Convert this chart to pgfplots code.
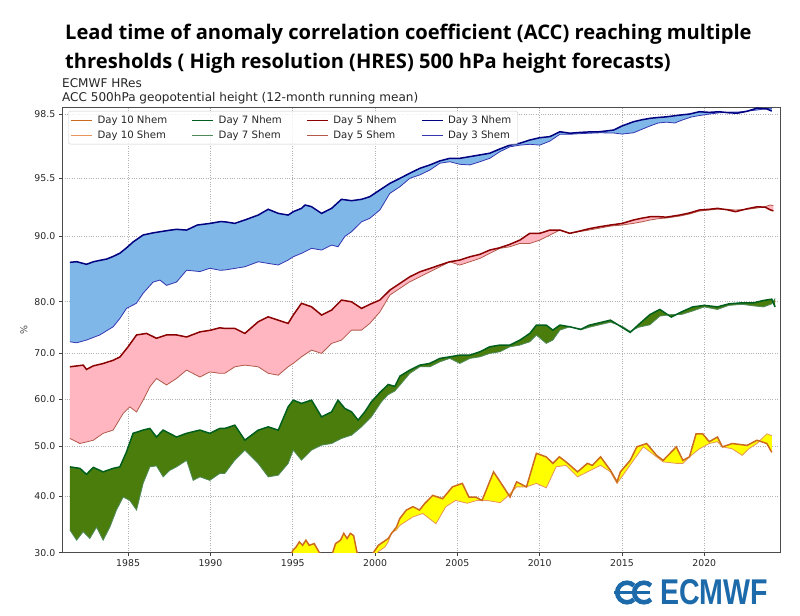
\documentclass[border=0pt]{standalone}
\usepackage{fontspec}
\setmainfont{DejaVu Sans}
\newfontfamily\titlefont{Open Sans}
\newfontfamily\logofont{Liberation Sans}
\usepackage{pgfplots}
\usepackage{pgfplotstable}
\pgfplotsset{compat=1.18}
\usepgfplotslibrary{fillbetween}

\definecolor{dthreen}{HTML}{000080}
\definecolor{dthrees}{HTML}{3535B0}
\definecolor{dthreef}{HTML}{7FB8E8}
\definecolor{dfiven}{HTML}{8B0000}
\definecolor{dfives}{HTML}{B2594A}
\definecolor{dfivef}{HTML}{FFB6C1}
\definecolor{dsevenn}{HTML}{005F1E}
\definecolor{dsevens}{HTML}{4F8A5B}
\definecolor{dsevenf}{HTML}{4A7D0C}
\definecolor{dtenn}{HTML}{CC6A1F}
\definecolor{dtens}{HTML}{E8955A}
\definecolor{dtenf}{HTML}{FFFF00}
\definecolor{ecblue}{HTML}{1D6AAA}
\definecolor{txt}{HTML}{262626}

% piecewise-linear map of ACC (%) onto the chart's stretched vertical scale
\newcommand{\accmap}[1]{((#1)<40?((#1)-30)*5.68:((#1)<50?56.8+((#1)-40)*5.0:((#1)<60?106.8+((#1)-50)*4.64:((#1)<70?153.2+((#1)-60)*4.66:((#1)<80?199.8+((#1)-70)*5.1:((#1)<90?250.8+((#1)-80)*6.57:((#1)<95.5?316.5+((#1)-90)*10.49:374.2+((#1)-95.5)*21.27)))))))}

\pgfplotstableread{
x y
1981.46 86.00
1981.87 86.10
1982.47 85.70
1982.90 86.10
1983.28 86.30
1983.69 86.50
1984.09 86.90
1984.50 87.40
1984.90 88.20
1985.30 89.10
1985.91 90.10
1986.50 90.30
1986.93 90.41
1987.50 90.55
1987.94 90.64
1988.55 90.57
1989.20 91.05
1990.00 91.21
1990.57 91.37
1990.87 91.36
1991.48 91.21
1992.09 91.53
1992.90 92.00
1993.51 92.55
1994.12 92.16
1994.72 92.00
1995.03 92.32
1995.53 92.64
1995.75 92.96
1996.14 92.80
1996.75 92.16
1997.36 92.64
1997.96 93.50
1998.57 93.37
1999.18 93.50
1999.68 93.75
2000.29 94.39
2000.90 95.02
2001.51 95.50
2002.11 95.74
2002.72 95.97
2003.33 96.13
2003.94 96.32
2004.54 96.44
2005.15 96.44
2005.76 96.52
2006.37 96.60
2006.97 96.68
2007.58 96.88
2008.19 97.06
2008.80 97.15
2009.40 97.30
2010.01 97.41
2010.62 97.46
2011.23 97.69
2011.83 97.62
2012.50 97.66
2013.00 97.68
2013.66 97.69
2014.50 97.77
2015.00 97.96
2015.70 98.16
2016.20 98.25
2016.70 98.32
2017.20 98.36
2017.70 98.39
2018.50 98.47
2019.10 98.52
2019.70 98.63
2020.30 98.60
2020.90 98.63
2021.50 98.58
2022.00 98.56
2022.60 98.65
2023.20 98.80
2023.80 98.76
2024.10 98.66
}\dthreeN

\pgfplotstableread{
x y
1981.46 72.16
1981.87 71.96
1982.47 72.50
1983.28 73.50
1984.09 75.10
1984.50 76.75
1984.90 78.70
1985.50 79.70
1985.91 81.30
1986.52 83.00
1986.93 83.30
1987.33 82.50
1987.94 83.00
1988.55 84.80
1989.36 84.60
1989.96 85.10
1990.57 84.80
1990.87 84.83
1991.48 85.08
1992.09 85.33
1992.90 86.09
1993.51 85.84
1994.12 85.59
1994.72 86.35
1995.03 86.85
1995.53 87.37
1996.14 88.13
1996.75 87.87
1997.36 88.63
1997.75 88.37
1998.16 89.93
1998.57 90.41
1999.18 91.36
1999.68 91.69
2000.29 92.48
2000.90 94.07
2001.51 94.70
2002.11 95.50
2002.72 95.66
2003.33 95.89
2003.94 96.21
2004.54 96.28
2005.15 96.16
2005.76 96.13
2006.37 96.28
2006.97 96.44
2007.58 96.75
2008.19 96.98
2008.80 97.06
2009.40 97.10
2010.01 97.06
2010.62 97.25
2011.23 97.57
2011.83 97.57
2012.50 97.60
2013.00 97.62
2013.66 97.64
2014.50 97.63
2015.00 97.58
2015.70 97.64
2016.20 97.80
2016.70 97.96
2017.20 98.10
2017.70 98.14
2018.20 98.10
2018.70 98.25
2019.20 98.38
2019.70 98.45
2020.30 98.52
2020.90 98.58
2021.50 98.61
2022.00 98.61
2022.60 98.66
2023.20 98.71
2023.80 98.78
2024.10 98.80
}\dthreeS

\pgfplotstableread{
x y
1981.46 67.00
1982.27 67.36
1982.47 66.44
1982.88 67.20
1983.48 67.70
1984.09 68.40
1984.50 69.10
1985.00 71.20
1985.51 73.50
1986.12 73.80
1986.72 72.85
1987.33 73.50
1987.94 73.50
1988.55 73.10
1989.36 74.10
1989.96 74.40
1990.57 74.90
1990.87 74.78
1991.48 74.78
1992.09 73.80
1992.90 76.08
1993.51 77.06
1994.12 76.40
1994.72 75.76
1995.03 77.40
1995.53 79.70
1996.14 79.02
1996.75 77.40
1997.36 78.37
1997.96 80.26
1998.57 80.00
1999.18 78.70
1999.68 79.50
2000.29 80.26
2000.90 81.78
2001.51 82.80
2002.11 83.80
2002.72 84.56
2003.33 85.07
2003.94 85.59
2004.54 86.09
2005.15 86.35
2005.76 86.85
2006.37 87.22
2006.97 87.87
2007.58 88.22
2008.19 88.74
2008.80 89.39
2009.40 90.26
2010.01 90.26
2010.62 90.57
2011.23 90.57
2011.83 90.26
2012.50 90.50
2013.00 90.70
2013.66 90.89
2014.30 91.05
2015.00 91.20
2015.70 91.53
2016.20 91.70
2016.70 91.84
2017.20 91.85
2017.70 91.80
2018.50 92.00
2019.10 92.20
2019.70 92.48
2020.30 92.55
2020.80 92.64
2021.40 92.50
2021.90 92.32
2022.60 92.60
2023.20 92.79
2023.70 92.75
2024.00 92.50
2024.20 92.40
}\dfiveN

\pgfplotstableread{
x y
1981.46 51.60
1982.07 50.50
1982.88 51.20
1983.48 52.70
1984.09 53.40
1984.70 57.00
1985.10 58.40
1985.51 57.30
1985.91 59.85
1986.32 62.70
1986.72 64.50
1987.33 63.10
1987.94 64.50
1988.55 66.30
1989.36 64.80
1989.96 65.90
1990.57 65.60
1990.87 65.60
1991.48 67.00
1992.09 67.36
1992.90 67.00
1993.51 65.60
1994.12 65.20
1994.72 67.00
1995.03 67.73
1995.53 69.14
1996.14 70.53
1996.75 69.87
1997.36 71.84
1997.96 72.49
1998.57 74.45
1999.18 74.45
1999.68 75.76
2000.29 78.00
2000.90 81.02
2001.51 82.04
2002.11 83.04
2002.72 83.80
2003.33 84.56
2003.94 85.33
2004.54 86.09
2005.15 85.59
2005.76 86.09
2006.37 86.60
2006.97 87.37
2007.58 88.13
2008.19 88.37
2008.80 88.88
2009.40 88.88
2010.01 89.39
2010.62 90.10
2011.23 90.57
2011.83 90.26
2012.50 90.45
2013.00 90.57
2013.66 90.76
2014.30 90.95
2015.00 91.05
2015.70 91.21
2016.20 91.35
2016.70 91.53
2017.20 91.65
2017.70 91.72
2018.50 91.90
2019.10 92.10
2019.70 92.38
2020.30 92.48
2020.80 92.56
2021.40 92.55
2021.90 92.48
2022.60 92.55
2023.20 92.67
2023.70 92.80
2024.00 92.96
2024.20 92.90
}\dfiveS

\pgfplotstableread{
x y
1981.46 45.80
1982.07 45.50
1982.47 44.30
1982.88 45.70
1983.48 44.80
1984.09 45.50
1984.50 45.80
1984.90 48.80
1985.30 52.70
1985.91 53.40
1986.32 53.75
1986.72 51.90
1987.12 53.40
1987.94 51.90
1988.55 52.70
1989.36 53.40
1989.96 52.70
1990.57 53.75
1990.87 53.75
1991.48 54.46
1992.09 51.23
1992.90 53.38
1993.51 54.10
1994.12 53.38
1994.72 58.40
1995.03 59.85
1995.53 59.14
1996.14 59.85
1996.75 56.25
1997.36 57.33
1997.75 59.85
1998.16 58.06
1998.57 57.33
1998.97 55.54
1999.38 57.33
1999.78 59.50
2000.30 61.50
2000.80 63.20
2001.20 62.80
2001.51 65.00
2002.11 66.29
2002.72 67.36
2003.33 67.73
2003.94 68.80
2004.54 69.14
2005.15 69.50
2005.76 69.50
2006.37 70.20
2006.97 71.18
2007.58 71.51
2008.19 71.51
2008.80 72.49
2009.40 73.80
2009.80 75.43
2010.40 75.43
2010.80 74.45
2011.23 75.43
2011.83 75.10
2012.50 74.60
2013.00 75.40
2014.30 76.40
2015.00 75.00
2015.50 74.00
2016.00 75.50
2016.70 77.50
2017.30 78.50
2018.00 77.00
2018.60 78.00
2019.30 79.00
2020.00 79.30
2020.80 79.00
2021.50 79.60
2022.30 79.80
2023.00 79.80
2023.60 80.20
2024.10 80.40
2024.30 79.00
}\dsevenN

\pgfplotstableread{
x y
1981.46 34.00
1981.87 32.20
1982.27 33.70
1982.67 32.50
1983.08 34.50
1983.48 32.20
1983.89 34.50
1984.29 37.50
1984.70 39.80
1985.10 39.20
1985.51 37.50
1985.91 42.50
1986.32 45.80
1986.72 46.00
1987.13 43.80
1987.53 45.10
1987.94 45.80
1988.55 47.10
1988.95 43.10
1989.36 43.80
1989.96 43.10
1990.57 44.50
1990.87 44.48
1991.48 47.14
1992.09 49.14
1992.90 46.48
1993.51 43.80
1994.12 44.14
1994.72 46.48
1995.03 49.14
1995.53 47.14
1996.14 49.14
1996.75 50.15
1997.36 50.50
1997.96 51.60
1998.57 52.30
1999.18 54.10
1999.78 56.25
2000.39 59.50
2000.79 61.00
2001.20 61.80
2001.51 63.07
2002.11 65.58
2002.72 67.00
2003.33 67.00
2003.94 68.07
2004.54 68.80
2005.15 67.73
2005.76 68.80
2006.37 69.14
2006.97 69.87
2007.58 70.20
2008.19 71.18
2008.80 71.51
2009.40 72.16
2009.80 73.47
2010.40 71.84
2010.80 72.49
2011.23 74.45
2011.83 75.10
2012.50 74.50
2013.00 75.00
2014.30 76.00
2015.00 75.20
2015.50 74.20
2016.00 75.00
2016.70 75.50
2017.30 77.20
2018.00 77.50
2018.60 77.50
2019.30 78.20
2020.00 79.00
2020.80 78.50
2021.50 79.30
2022.30 79.50
2023.00 79.20
2023.60 79.00
2024.10 79.60
2024.30 80.50
}\dsevenS

\pgfplotstableread{
x y
1981.46 24.0
1988.00 26.0
1994.00 28.0
1994.90 29.5
1995.00 30.4
1995.20 31.0
1995.40 31.9
1995.60 31.3
1995.80 32.2
1996.00 31.3
1996.30 31.6
1996.60 30.1
1997.00 28.5
1997.40 29.8
1997.60 31.6
1997.90 32.2
1998.10 33.4
1998.30 32.5
1998.50 33.4
1998.70 33.0
1998.90 30.1
1999.30 28.5
1999.90 30.0
2000.20 31.3
2000.50 31.9
2000.80 32.5
2001.00 33.4
2001.30 34.5
2001.50 36.0
2001.90 37.5
2002.10 37.8
2002.30 38.1
2002.70 37.5
2003.00 38.6
2003.50 40.1
2004.10 39.5
2004.70 41.8
2005.30 42.5
2005.70 39.8
2006.10 39.8
2006.50 39.2
2007.20 44.8
2007.80 41.8
2008.20 39.8
2008.60 42.8
2009.20 41.8
2009.80 48.5
2010.40 47.8
2010.80 46.5
2011.20 47.8
2011.60 46.8
2012.30 44.8
2012.90 46.5
2013.20 46.1
2013.70 47.8
2014.30 45.1
2014.70 42.8
2014.90 44.8
2015.50 47.1
2015.90 49.8
2016.50 50.5
2017.10 48.1
2017.50 47.1
2018.30 49.8
2018.70 47.1
2019.10 47.8
2019.50 52.6
2019.90 52.6
2020.30 50.9
2020.80 51.9
2021.10 49.8
2021.70 50.5
2022.60 50.1
2023.20 51.2
2023.80 50.5
2024.10 48.7
}\dtenN

\pgfplotstableread{
x y
1981.46 22.0
1988.00 25.0
1994.00 27.0
1995.00 28.5
1996.00 29.0
1997.00 28.0
1998.00 29.0
1999.00 28.0
1999.90 29.0
2000.20 30.2
2000.60 31.0
2000.80 31.9
2001.00 33.5
2001.30 34.0
2001.50 34.8
2002.30 36.3
2002.90 36.9
2003.70 35.1
2004.30 38.1
2004.90 39.2
2005.60 38.7
2006.20 39.2
2006.80 39.2
2007.60 38.8
2008.00 39.8
2008.60 41.8
2009.20 41.8
2009.80 42.5
2010.40 41.6
2011.00 45.8
2011.60 46.1
2012.30 43.8
2012.90 44.8
2013.70 46.1
2014.30 44.8
2014.70 42.5
2015.10 44.3
2015.70 47.1
2016.30 49.8
2017.10 47.8
2017.50 46.8
2018.30 46.5
2018.70 46.5
2019.10 47.8
2019.70 49.4
2020.30 50.5
2020.80 50.9
2021.10 49.8
2021.70 49.4
2022.30 48.1
2022.70 49.4
2023.20 50.5
2023.80 52.6
2024.10 52.2
}\dtenS

\begin{document}
\begin{tikzpicture}
\node[anchor=base west, inner sep=0pt, font=\titlefont\bfseries\fontsize{20.2}{24}\selectfont] at (65bp,576bp) {Lead time of anomaly correlation coefficient (ACC) reaching multiple};
\node[anchor=base west, inner sep=0pt, font=\titlefont\bfseries\fontsize{20.2}{24}\selectfont] at (65bp,547bp) {thresholds ( High resolution (HRES) 500 hPa height forecasts)};
\node[anchor=base west, inner sep=0pt, font=\fontsize{12.1}{13}\selectfont, text=txt] at (62bp,528bp) {ECMWF HRes};
\node[anchor=base west, inner sep=0pt, font=\fontsize{12.1}{13}\selectfont, text=txt] at (62bp,514.5bp) {ACC 500hPa geopotential height (12-month running mean)};

\begin{axis}[
  at={(62.3bp,63.3bp)}, anchor=south west,
  width=717.7bp, height=445bp, scale only axis,
  xmin=1981.0, xmax=2024.6, ymin=0, ymax=444.8,
  ytick={0,56.8,106.8,153.2,199.8,250.8,316.5,374.2,438.0},
  yticklabels={30.0,40.0,50.0,60.0,70.0,80.0,90.0,95.5,98.5},
  xtick={1985,1990,1995,2000,2005,2010,2015,2020},
  xticklabels={1985,1990,1995,2000,2005,2010,2015,2020},
  tick align=outside, tick pos=left,
  major tick length=3.5bp,
  tick style={black!75, line width=0.6bp},
  grid=major, grid style={dotted, black!30, line width=0.6bp},
  axis line style={black!70, line width=0.7bp},
  ticklabel style={font=\fontsize{9.4}{10}\selectfont, text=txt},
  ylabel={\%}, ylabel style={font=\fontsize{9.5}{10}\selectfont, text=black!70},
  legend columns=4,
  legend cell align=left,
  legend image code/.code={\draw[#1] (0bp,0bp) -- (21bp,0bp);},
  legend style={at={(0.0084,0.9926)}, anchor=north west, draw=black!20, rounded corners=2bp,
    fill=white, fill opacity=0.8, text opacity=1, text=txt,
    font=\fontsize{10.2}{11.5}\selectfont,
    nodes={inner xsep=4.5bp},
    /tikz/every even column/.append style={column sep=20bp},
    row sep=1.5bp, inner xsep=2bp, inner ysep=2.5bp},
  clip=true,
]
\addplot[draw=none, name path=tenN, forget plot] table[x=x, y expr={\accmap{\thisrow{y}}}] {\dtenN};
\addplot[draw=none, name path=tenS, forget plot] table[x=x, y expr={\accmap{\thisrow{y}}}] {\dtenS};
\addplot[draw=none, name path=sevenN, forget plot] table[x=x, y expr={\accmap{\thisrow{y}}}] {\dsevenN};
\addplot[draw=none, name path=sevenS, forget plot] table[x=x, y expr={\accmap{\thisrow{y}}}] {\dsevenS};
\addplot[draw=none, name path=fiveN, forget plot] table[x=x, y expr={\accmap{\thisrow{y}}}] {\dfiveN};
\addplot[draw=none, name path=fiveS, forget plot] table[x=x, y expr={\accmap{\thisrow{y}}}] {\dfiveS};
\addplot[draw=none, name path=threeN, forget plot] table[x=x, y expr={\accmap{\thisrow{y}}}] {\dthreeN};
\addplot[draw=none, name path=threeS, forget plot] table[x=x, y expr={\accmap{\thisrow{y}}}] {\dthreeS};
\addplot[fill=dtenf, draw=none, forget plot] fill between[of=tenN and tenS];
\addplot[fill=dsevenf, draw=none, forget plot] fill between[of=sevenN and sevenS];
\addplot[fill=dfivef, draw=none, forget plot] fill between[of=fiveN and fiveS];
\addplot[fill=dthreef, draw=none, forget plot] fill between[of=threeN and threeS];
\addplot[dtens, line width=0.8bp, forget plot] table[x=x, y expr={\accmap{\thisrow{y}}}] {\dtenS};
\addplot[dtenn, line width=1.5bp, forget plot] table[x=x, y expr={\accmap{\thisrow{y}}}] {\dtenN};
\addplot[dsevens, line width=0.8bp, forget plot] table[x=x, y expr={\accmap{\thisrow{y}}}] {\dsevenS};
\addplot[dsevenn, line width=1.5bp, forget plot] table[x=x, y expr={\accmap{\thisrow{y}}}] {\dsevenN};
\addplot[dfives, line width=0.8bp, forget plot] table[x=x, y expr={\accmap{\thisrow{y}}}] {\dfiveS};
\addplot[dfiven, line width=1.5bp, forget plot] table[x=x, y expr={\accmap{\thisrow{y}}}] {\dfiveN};
\addplot[dthrees, line width=0.8bp, forget plot] table[x=x, y expr={\accmap{\thisrow{y}}}] {\dthreeS};
\addplot[dthreen, line width=1.5bp, forget plot] table[x=x, y expr={\accmap{\thisrow{y}}}] {\dthreeN};
\addlegendimage{dtenn, line width=1.5bp}\addlegendentry{Day 10 Nhem}
\addlegendimage{dsevenn, line width=1.5bp}\addlegendentry{Day 7 Nhem}
\addlegendimage{dfiven, line width=1.5bp}\addlegendentry{Day 5 Nhem}
\addlegendimage{dthreen, line width=1.5bp}\addlegendentry{Day 3 Nhem}
\addlegendimage{dtens, line width=0.8bp}\addlegendentry{Day 10 Shem}
\addlegendimage{dsevens, line width=0.8bp}\addlegendentry{Day 7 Shem}
\addlegendimage{dfives, line width=0.8bp}\addlegendentry{Day 5 Shem}
\addlegendimage{dthrees, line width=0.8bp}\addlegendentry{Day 3 Shem}
\end{axis}

\begin{scope}[ecblue]
\draw[line width=4.6bp] (627bp,23.5bp) ++(45:9.8bp) arc[start angle=45, end angle=315, radius=9.8bp];
\draw[line width=4.6bp] (644bp,23.5bp) ++(45:9.8bp) arc[start angle=45, end angle=315, radius=9.8bp];
\fill (614bp,21.6bp) rectangle (650bp,25.4bp);
\end{scope}
\node[anchor=south west, inner sep=0pt, text=ecblue] at (660bp,11bp) {\resizebox{108bp}{25bp}{\logofont\bfseries ECMWF}};

\pgfresetboundingbox
\path[use as bounding box] (0bp,0bp) rectangle (800bp,616bp);
\end{tikzpicture}
\end{document}
